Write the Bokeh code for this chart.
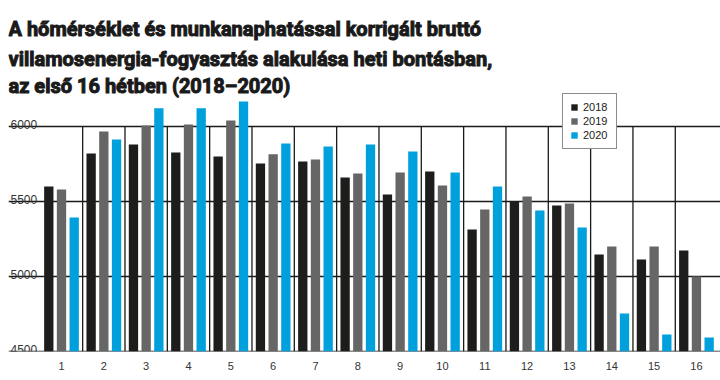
from bokeh.plotting import figure
from bokeh.models import ColumnDataSource, Label, Legend, LegendItem, FixedTicker
from bokeh.transform import dodge
from bokeh.core.properties import value
from bokeh.embed import file_html
from bokeh.resources import INLINE

# ---- data ----
weeks = list(range(1, 17))
week_labels = [str(w) for w in weeks]
v2018 = [5600, 5820, 5880, 5827, 5800, 5753, 5767, 5660, 5547, 5700, 5313, 5500, 5473, 5147, 5113, 5173]
v2019 = [5580, 5967, 6007, 6013, 6040, 5815, 5780, 5687, 5693, 5607, 5447, 5533, 5487, 5200, 5200, 5000]
v2020 = [5393, 5913, 6122, 6122, 6167, 5887, 5867, 5880, 5833, 5693, 5600, 5440, 5327, 4753, 4613, 4593]
years = ["2018", "2019", "2020"]
yticks = [4500, 5000, 5500, 6000]
ytick_labels = ["4500", "5000", "5500", "6000"]
title_lines = [
    "A hőmérséklet és munkanaphatással korrigált bruttó",
    "villamosenergia-fogyasztás alakulása heti bontásban,",
    "az első 16 hétben (2018–2020)",
]

# ---- layout constants ----
W, H = 720, 380
LEFT = 8
BOTTOM = 29
PX_PER_WEEK = 42.33
FIRST_CENTER = 53.0          # px from frame left to centre of week 1
PX_PER_UNIT = 0.15
BASE = 4500
frame_w = W - LEFT
frame_h = H - BOTTOM
x_start = 1 - FIRST_CENTER / PX_PER_WEEK
x_end = x_start + frame_w / PX_PER_WEEK
y_end = BASE + frame_h / PX_PER_UNIT

colors = ["#1d1d1b", "#666666", "#00a0dc"]
FONT = "Liberation Sans"
TFONT = "Roboto"

src = ColumnDataSource(dict(week=weeks, y2018=v2018, y2019=v2019, y2020=v2020))

p = figure(width=W, height=H, x_range=(x_start, x_end), y_range=(BASE - 0.5, y_end),
           output_backend="svg", toolbar_location=None, y_axis_location=None,
           min_border_left=LEFT, min_border_right=0, min_border_top=0, min_border_bottom=BOTTOM)
p.outline_line_color = None
p.background_fill_color = "white"
p.border_fill_color = "white"

p.xgrid.grid_line_color = None
p.ygrid.ticker = FixedTicker(ticks=yticks)
p.ygrid.grid_line_color = "#1a1a1a"
p.ygrid.grid_line_width = 1.3

ax = p.xaxis[0]
ax.ticker = FixedTicker(ticks=weeks)
ax.major_label_overrides = {w: l for w, l in zip(weeks, week_labels)}
ax.axis_line_color = None
ax.major_tick_line_color = None
ax.minor_tick_line_color = None
ax.major_tick_out = 0
ax.major_tick_in = 0
ax.major_label_standoff = 10
ax.major_label_text_font = FONT
ax.major_label_text_font_size = "11px"
ax.major_label_text_color = "#333333"

# separators between weeks
seps = [w + 0.5 for w in weeks[:-1]]
p.segment(x0=seps, y0=[BASE] * len(seps), x1=seps, y1=[yticks[-1]] * len(seps),
          line_color="#1a1a1a", line_width=1.3)

renderers = []
for off, col, c in zip([-0.3, 0.0, 0.3], ["y2018", "y2019", "y2020"], colors):
    r = p.vbar(x=dodge("week", off, range=p.x_range), top=col, bottom=BASE, width=0.22,
               source=src, fill_color=c, line_color=None)
    renderers.append(r)

# y tick labels inside the plot, above the grid lines
p.text(x=[x_start] * len(yticks), y=yticks, text=ytick_labels, x_offset=2, y_offset=-2,
       text_baseline="alphabetic", text_align="left", text_font=value(FONT),
       text_font_size="12px", text_color="#333333")

legend = Legend(items=[LegendItem(label=y, renderers=[r]) for y, r in zip(years, renderers)],
                location=(554, 202), glyph_width=8, glyph_height=8,
                label_text_font=FONT, label_text_font_size="11px", label_text_color="#222222",
                padding=7, spacing=2, label_standoff=5, label_width=26, label_height=12,
                margin=0, border_line_color="#1a1a1a", border_line_width=1,
                background_fill_color="white", background_fill_alpha=1.0)
p.add_layout(legend)

for text, b in zip(title_lines, [28.3, 58.3, 85.7]):
    p.add_layout(Label(x=0, y=frame_h - b, x_units="screen", y_units="screen", text=text,
                       text_font=TFONT, text_font_size="20px", text_font_style="bold",
                       text_color="#1a1a1a", text_outline_color="#1a1a1a",
                       text_baseline="alphabetic"))

open("out.html", "w").write(file_html(p, INLINE))
